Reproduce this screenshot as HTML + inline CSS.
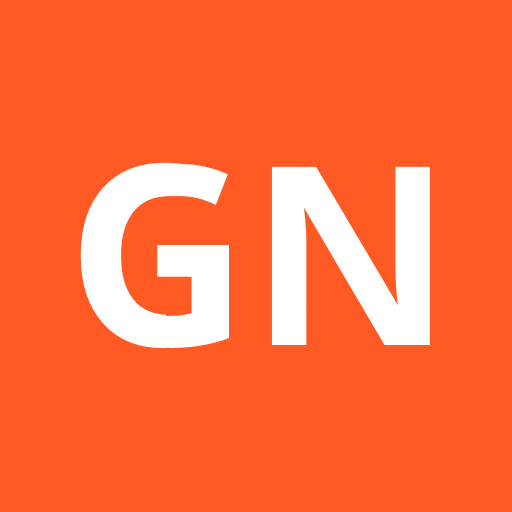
<!DOCTYPE html>
<html lang="en">
<head>
<meta charset="utf-8">
<title>GN avatar</title>
<style>
html,body{margin:0;padding:0;width:512px;height:512px;overflow:hidden;background:#FF5722}
svg{display:block}
text{font-weight:700;fill:#fff}
</style>
</head>
<body>
<svg width="512" height="512" viewBox="0 0 512 512">
  <rect x="0" y="0" width="512" height="512" fill="#FF5A23"/>
  <text transform="translate(70.4 344.6) scale(0.847 1)" font-size="245" style='font-family:"DejaVu Sans",sans-serif'>G</text>
  <rect x="196" y="155" width="44" height="89" fill="#FF5A23"/>
  <path d="M160,198 Q170,196 180,196 L197,197 V215 H160 Z" fill="#FF5A23"/>
  <rect x="166" y="276.7" width="25.7" height="39.5" fill="#FF5A23"/>
  <path d="M180,164 Q205,164 227.8,174.3 L215.8,205 Q198,196 180,196 Z" fill="#fff"/>
  <rect x="157.3" y="245" width="71.7" height="31.7" fill="#fff"/>
  <path d="M191.7,276 H229 V338 Q203,348 170,348 L165,315.7 Q182,316.5 191.7,313 Z" fill="#fff"/>
  <text transform="translate(254 345) scale(1.037 1)" font-size="259" style='font-family:"Liberation Sans",sans-serif'>N</text>
</svg>
</body>
</html>
